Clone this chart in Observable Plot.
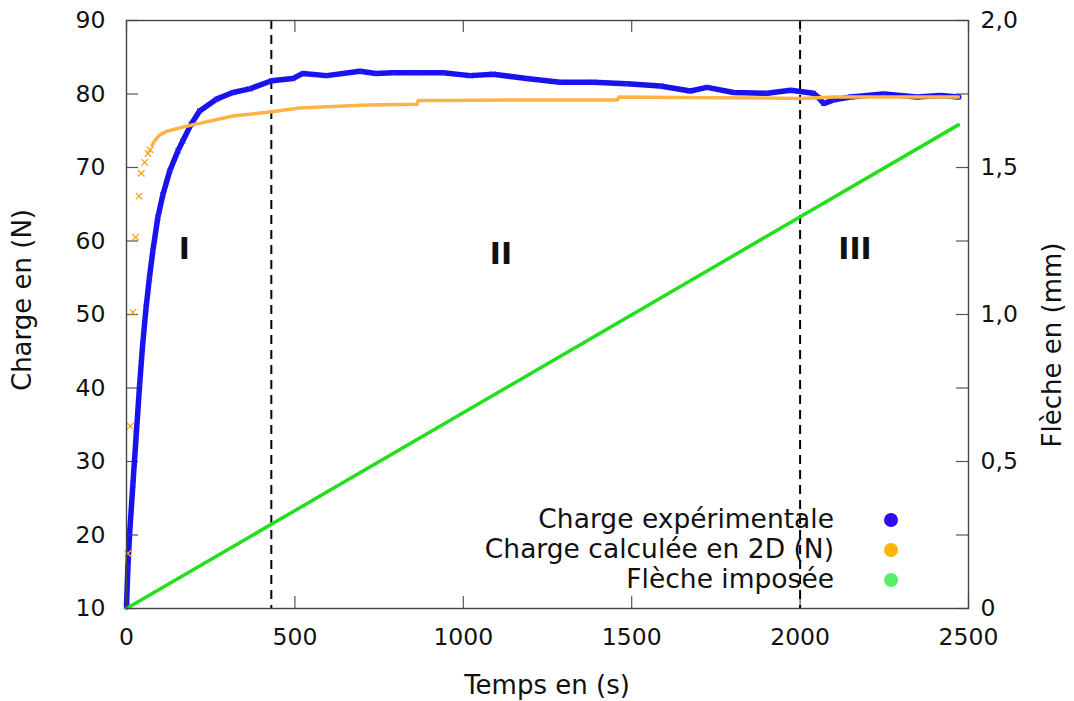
<!DOCTYPE html>
<html><head><meta charset="utf-8">
<script src="https://cdn.jsdelivr.net/npm/d3@7"></script>
<script src="https://cdn.jsdelivr.net/npm/@observablehq/plot@0.6"></script>
<style>
body{margin:0;background:#fff;}
#wrap{position:relative;width:1074px;height:701px;font-family:"DejaVu Sans",sans-serif;color:#111;overflow:hidden;}
.t{position:absolute;white-space:nowrap;line-height:1;}
.dot{position:absolute;width:14px;height:14px;border-radius:50%;}
</style></head><body><div id="wrap"></div>
<script>
// ---- data ----
const blueT = [0,4,9,19,29,39,48,58,68,78,93,108,128,153,167,192,217,267,316,366,431,494,524,594,693,740,791,860,940,1020,1089,1188,1287,1386,1486,1585,1674,1724,1803,1902,1972,2040,2055,2070,2100,2150,2248,2347,2417,2471];
const blueN = [10.3,15.5,20,26.9,33.7,40.5,45.9,50.9,55,58.6,63.2,66.3,69.5,72.3,73.6,75.9,77.7,79.3,80.2,80.7,81.8,82.1,82.8,82.5,83.1,82.8,82.9,82.9,82.9,82.5,82.7,82.1,81.6,81.6,81.4,81.1,80.4,80.9,80.2,80.1,80.5,80.1,79.5,78.7,79.2,79.6,80.0,79.6,79.8,79.6];
const orangeEarlyT = [4,11,19,27,37,44,54,64,70];
const orangeEarlyN = [17.5,34.8,50.3,60.5,66.1,69.2,70.7,71.9,72.4];
const orangeT = [76,83,98,118,167,217,286,316,431,514,713,863,866,950,1200,1458,1462,1733,2000,2100,2470];
const orangeN = [73.0,73.6,74.4,74.9,75.5,76.0,76.7,77.0,77.6,78.1,78.5,78.6,79.1,79.1,79.2,79.2,79.6,79.5,79.4,79.6,79.6];
const flecheT = [0,2470];
const flecheMM = [0,1.645];
const zoneBounds = [430,2000];
const zoneLabels = ["I","II","III"];
const zoneT = [172,1112,2163];
const zoneN = [58.9,58.2,58.9];
const xTicks = [0,500,1000,1500,2000,2500];
const yTicks = [10,20,30,40,50,60,70,80,90];
const mmTicks = [0,0.25,0.5,0.75,1,1.25,1.5,1.75,2];
const mmLabels = [0,0.5,1,1.5,2];
const legendNames = ["Charge expérimentale","Charge calculée en 2D (N)","Flèche imposée"];
const legendColors = ["#2b0cf5","#ffb400","#55ee66"];

// mm -> left-axis scale (0 mm = 10 N, 2 mm = 90 N)
const mm2N = mm => 10 + mm * 40;

const blue = blueT.map((t,i)=>({t, v: blueN[i]}));
const orangeEarly = orangeEarlyT.map((t,i)=>({t, v: orangeEarlyN[i]}));
const orange = orangeT.map((t,i)=>({t, v: orangeN[i]}));
const fleche = flecheT.map((t,i)=>({t, v: mm2N(flecheMM[i])}));
const zones = zoneLabels.map((s,i)=>({s, t: zoneT[i], v: zoneN[i]}));

const W = 1074, H = 701, mL = 126, mR = 106, mT = 20, mB = 93;
const fw = W - mL - mR, fh = H - mT - mB, tk = 12;

const chart = Plot.plot({
  width: W, height: H,
  marginLeft: mL, marginRight: mR, marginTop: mT, marginBottom: mB,
  style: {fontFamily: "DejaVu Sans, sans-serif", fontSize: "23.5px", color: "#111", background: "#fff"},
  x: {domain: [0, 2500]},
  y: {domain: [10, 90]},
  marks: [
    Plot.tickY(yTicks, {stroke: "#555", strokeWidth: 1.2, insetRight: fw - tk}),
    Plot.tickY(mmTicks.map(mm2N), {stroke: "#555", strokeWidth: 1.2, insetLeft: fw - tk}),
    Plot.tickX(xTicks, {stroke: "#555", strokeWidth: 1.2, insetTop: fh - tk}),
    Plot.tickX(xTicks, {stroke: "#555", strokeWidth: 1.2, insetBottom: fh - tk}),
    Plot.ruleX(zoneBounds, {stroke: "#000", strokeWidth: 2, strokeDasharray: "9,6"}),
    Plot.line(blue, {x: "t", y: "v", stroke: "#1a12ee", strokeWidth: 5.5, curve: "linear"}),
    Plot.dot(blue, {x: "t", y: "v", symbol: "times", r: 2.5, stroke: "#2a20ff", strokeWidth: 1}),
    Plot.line(orange, {x: "t", y: "v", stroke: "#ffb347", strokeWidth: 3.5}),
    Plot.dot(orangeEarly, {x: "t", y: "v", symbol: "times", r: 3, stroke: "#ffa31a", strokeWidth: 1.3}),
    Plot.line(fleche, {x: "t", y: "v", stroke: "#22e01e", strokeWidth: 3.5}),
    Plot.text(zones, {x: "t", y: "v", text: "s", fontSize: 30, fontWeight: "bold", fill: "#111", fontFamily: "DejaVu Sans", letterSpacing: "-1px"}),
    Plot.frame({stroke: "#444", strokeWidth: 1.4}),
    Plot.axisX({ticks: xTicks, tickSize: 0, tickPadding: 20, label: null, tickFormat: d => String(d)}),
    Plot.axisY({ticks: yTicks, tickSize: 0, tickPadding: 21, label: null, tickFormat: d => String(d)}),
    Plot.axisY({anchor: "right", ticks: mmLabels.map(mm2N), tickSize: 0, tickPadding: 12, label: null,
      tickFormat: d => { const m = (d - 10) / 40; return m === 0 ? "0" : m.toFixed(1).replace(".", ","); }})
  ]
});
const wrap = document.getElementById("wrap");
wrap.appendChild(chart);

function addText(txt, css) {
  const d = document.createElement("div");
  d.className = "t"; d.textContent = txt;
  Object.assign(d.style, css);
  wrap.appendChild(d);
  return d;
}
// axis titles
addText("Temps en (s)", {left: "0px", width: W + "px", textAlign: "center", top: "672px", fontSize: "26px", paddingLeft: (mL - mR) + "px", boxSizing: "border-box"});
addText("Charge en (N)", {left: "22px", top: "300px", fontSize: "26px", transform: "translate(-50%,-50%) rotate(-90deg)"});
addText("Flèche en (mm)", {left: "1052px", top: "345px", fontSize: "26px", transform: "translate(-50%,-50%) rotate(-90deg)"});
// legend
legendNames.forEach((n, i) => {
  const y = 520 + i * 30;
  addText(n, {right: (W - 834) + "px", top: (y - 14) + "px", fontSize: "26.5px", textAlign: "right"});
  const c = document.createElement("div");
  c.className = "dot";
  Object.assign(c.style, {left: (891 - 7) + "px", top: (y - 7) + "px", background: legendColors[i]});
  wrap.appendChild(c);
});
</script>
</body></html>
